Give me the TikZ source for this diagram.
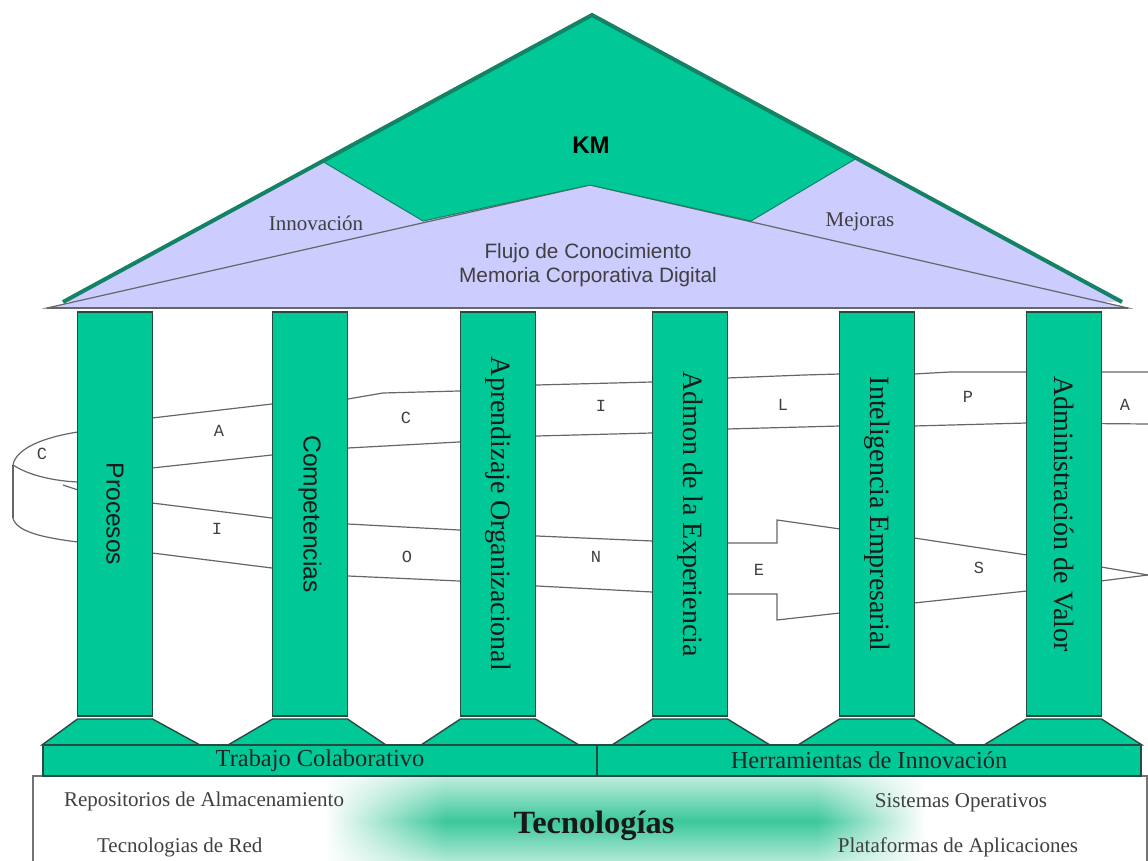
\documentclass[tikz,border=0pt]{standalone}
\usepackage{fontspec}
\usetikzlibrary{fadings}
\setmainfont{Liberation Serif}
\setsansfont{Liberation Sans}
\setmonofont{Liberation Mono}
\definecolor{tgreen}{RGB}{0,200,150}
\definecolor{bandgreen}{RGB}{60,200,155}
\definecolor{lav}{RGB}{204,204,255}
\definecolor{edgec}{RGB}{40,75,65}
\definecolor{roofedge}{RGB}{20,130,100}
\pgfdeclarehorizontalshading{bandshade}{100bp}{color(0bp)=(white); color(25bp)=(white); color(35bp)=(bandgreen); color(66bp)=(bandgreen); color(75bp)=(white); color(100bp)=(white)}
\tikzfading[name=vband, top color=transparent!100, bottom color=transparent!100, middle color=transparent!0]
\begin{document}
\begin{tikzpicture}[x=0.5pt,y=-0.5pt,
  colbox/.style={draw=edgec, line width=0.7pt, fill=tgreen, inner sep=0pt, outer sep=0pt,
    minimum width=37.5pt, minimum height=202pt, anchor=north},
  sanslab/.style={rotate=-90, font=\sffamily\fontsize{12.3}{12.3}\selectfont, text=black!90},
  seriflab/.style={rotate=-90, font=\fontsize{14}{14}\selectfont, text=black!90},
  capital/.style={draw=edgec, line width=0.7pt, fill=tgreen},
  barbox/.style={draw=edgec, line width=0.7pt, fill=tgreen, inner sep=0pt, outer sep=0pt,
    minimum height=15.5pt, anchor=north west, font=\fontsize{12.2}{12.2}\selectfont, text=black!85},
  ribbon/.style={draw=black!60, line width=0.6pt},
  letter/.style={font=\ttfamily\fontsize{8.5}{8.5}\selectfont, text=black!75},
  small/.style={font=\fontsize{10.5}{10.5}\selectfont, text=black!75},
  roofsans/.style={font=\sffamily\fontsize{10.4}{10.4}\selectfont, text=black!75}
]
\useasboundingbox (0,0) rectangle (1148,861);

% ---------- technology box ----------
\fill[white] (33,776) rectangle (1147,861);
\begin{scope}
  \clip (33,777) rectangle (1147,861);
  \shade[shading=bandshade, path fading=vband] (325,755) rectangle (925,887);
\end{scope}
\draw[black!55, line width=0.6pt] (33,862) -- (33,776) -- (1147,776) -- (1147,862);
\node[font=\bfseries\fontsize{16.2}{16.2}\selectfont, text=black!90] (tec) at (594,826) {Tecnologías};
\node[small, anchor=west] (rep) at (57,801) {Repositorios de Almacenamiento};
\node[small, anchor=west] (red) at (90,847) {Tecnologias de Red};
\node[small] (sis) at (961,803) {Sistemas Operativos};
\node[small] (pla) at (958,847) {Plataformas de Aplicaciones};

% ---------- ribbon ----------
% top band, upper edge (with loop)
\draw[ribbon] (13,465) .. controls (16,448) and (45,437) .. (78,432) -- (152,418) -- (272,404)
  -- (348,399) -- (383,393) -- (459,391) -- (537,385) -- (652,382) -- (727,378) -- (804,375)
  -- (840,374) -- (914,374) -- (950,372) -- (1027,372) -- (1148,372);
% top band, lower edge
\draw[ribbon] (13,465) .. controls (30,476) and (55,481) .. (78,482) -- (152,468) -- (272,455)
  -- (348,448) -- (459,442) -- (537,436) -- (652,433) -- (727,429) -- (840,426)
  -- (914,426) -- (1027,423) -- (1148,424);
% loop side
\draw[ribbon] (13,465) -- (13,518);
% bottom band, upper edge with arrow
\draw[ribbon] (63,485) -- (78,490) -- (152,503) -- (272,518) -- (348,524) -- (459,530)
  -- (537,536) -- (652,541) -- (727,543) -- (777,543) -- (777,520) -- (840,529)
  -- (914,538) -- (1027,555) -- (1101,567) -- (1148,575);
% bottom band, lower edge with arrow
\draw[ribbon] (13,518) .. controls (16,532) and (45,538) .. (78,542) -- (152,553) -- (272,568)
  -- (348,576) -- (459,581) -- (537,586) -- (652,592) -- (727,594) -- (777,594) -- (777,620)
  -- (840,613) -- (914,603) -- (1027,591) -- (1101,581) -- (1148,575);
% letters
\node[letter] (lc1) at (42,454) {C};
\node[letter] (la1) at (219,431) {A};
\node[letter] (lc2) at (406,418) {C};
\node[letter] (li1) at (601,406) {I};
\node[letter] (ll) at (783,405) {L};
\node[letter] (lp) at (968,397) {P};
\node[letter] (la2) at (1125,405) {A};
\node[letter] (li2) at (217,529) {I};
\node[letter] (lo) at (407,557) {O};
\node[letter] (ln) at (596,557) {N};
\node[letter] (le) at (759,570) {E};
\node[letter] (ls) at (979,568) {S};

% ---------- roof ----------
\fill[lav] (592,15) -- (63,302) -- (1122,302) -- cycle;
\filldraw[fill=lav, draw=black!60, line width=0.6pt] (590,185) -- (47,308) -- (1128,308) -- cycle;
\filldraw[fill=tgreen, draw=roofedge, line width=0.5pt] (592,15) -- (322,161) -- (423,221) -- (590,185)
  -- (751,221) -- (857,158) -- cycle;
\draw[roofedge, line width=2pt] (63,302) -- (592,15) -- (1122,302);
\draw[black!60, line width=1.2pt] (47,308) -- (1128,308);
\node[font=\sffamily\bfseries\fontsize{12}{12}\selectfont] (km) at (591,145) {KM};
\node[small] (inn) at (316,223) {Innovación};
\node[small] (mej) at (860,222) {Mejoras};
\node[roofsans] (flujo) at (588,253) {Flujo de Conocimiento};
\node[roofsans] (mem) at (588,277) {Memoria Corporativa Digital};

% ---------- columns ----------
\node[colbox] (c1) at (115,312) {};
\node[colbox] (c2) at (310,312) {};
\node[colbox] (c3) at (498,312) {};
\node[colbox] (c4) at (690,312) {};
\node[colbox] (c5) at (877,312) {};
\node[colbox] (c6) at (1064,312) {};
\node[sanslab] (t1) at (c1.center) {Procesos};
\node[sanslab] (t2) at (c2.center) {Competencias};
\node[seriflab] (t3) at (c3.center) {Aprendizaje Organizacional};
\node[seriflab] (t4) at (c4.center) {Admon de la Experiencia};
\node[seriflab] (t5) at (c5.center) {Inteligencia Empresarial};
\node[seriflab] (t6) at (c6.center) {Administración de Valor};

% ---------- capitals (bases) ----------
\foreach \cx/\bx in {115/121, 310/307, 498/500, 690/691, 877/877, 1064/1063}{
  \filldraw[capital] (\cx-37.5,719) -- (\cx+37.5,719) -- (\bx+79,745) -- (\bx-79,745) -- cycle;
}

% ---------- bars ----------
\node[barbox, minimum width=277pt] (trab) at (43,745) {Trabajo Colaborativo};
\node[barbox, minimum width=272pt] (herr) at (597,745) {Herramientas de Innovación};
\end{tikzpicture}
\end{document}
